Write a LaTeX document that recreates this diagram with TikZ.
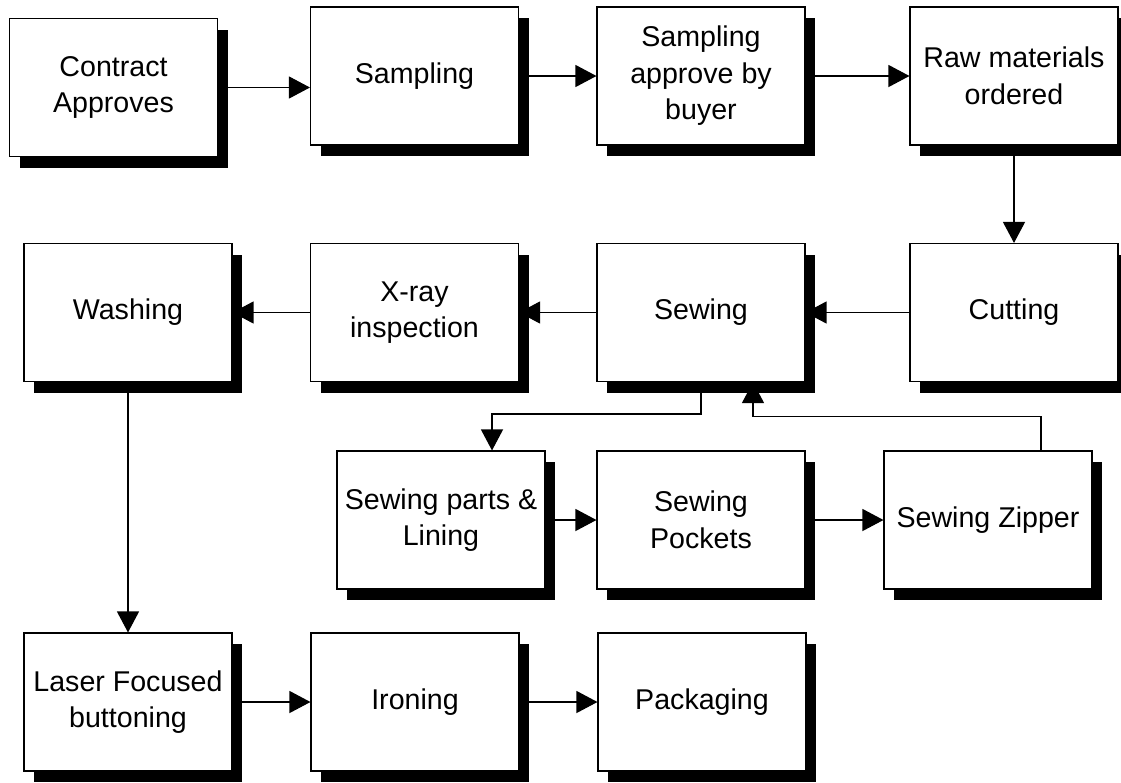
\documentclass[tikz,border=0pt]{standalone}
\usepackage{fontspec}
\setmainfont{Liberation Sans}
\usetikzlibrary{arrows.meta,shadows,backgrounds}
\tikzset{
  box/.style={draw=black, line width=1.1pt, fill=white,
    minimum width=208pt, minimum height=138pt, inner sep=2pt,
    align=center, font=\fontsize{28.6}{36.5}\selectfont,
    drop shadow={shadow xshift=10pt, shadow yshift=-11pt, fill=black, opacity=1}},
  link/.style={line width=1.2pt, -{Triangle[length=21pt,width=22pt]}}
}
\begin{document}
\begin{tikzpicture}[x=1pt,y=-1pt]
\useasboundingbox (0,0) rectangle (1121,782);
% row 1
\node[box] (contract) at (113.5,87.5) {Contract\\Approves};
\node[box] (sampling) at (414.5,76) {Sampling};
\node[box] (approve)  at (701,76)   {Sampling\\approve by\\buyer};
\node[box] (raw)      at (1014,76)  {Raw materials\\ordered};
% row 2
\node[box] (washing)  at (128,312.5)   {Washing};
\node[box] (xray)     at (414.5,312.5) {X-ray\\inspection};
\node[box] (sewing)   at (701,312.5)   {Sewing};
\node[box] (cutting)  at (1014,312.5)  {Cutting};
% row 3
\node[box] (parts)    at (441,520) {Sewing parts \&\\Lining};
\node[box] (pockets)  at (701,520) {Sewing\\Pockets};
\node[box] (zipper)   at (988,520) {Sewing Zipper};
% row 4
\node[box] (laser)    at (128,702) {Laser Focused\\buttoning};
\node[box] (ironing)  at (415,702) {Ironing};
\node[box] (packaging) at (702,702) {Packaging};

\begin{scope}[on background layer]
\draw[link] (contract.east) -- (contract.east -| sampling.west);
\draw[link] (sampling) -- (approve);
\draw[link] (approve) -- (raw);
\draw[link] (raw) -- (cutting);
\draw[link] (cutting) -- (sewing);
\draw[link] (sewing) -- (xray);
\draw[link] (xray) -- (washing);
\draw[link] (washing) -- (laser);
\draw[link] (laser) -- (ironing);
\draw[link] (ironing) -- (packaging);
\draw[link] (parts.east) -- (parts.east -| pockets.west);
\draw[link] (pockets) -- (zipper);
\draw[link] (sewing.south) -- ++(0,32) -| ([xshift=51pt]parts.north);
\draw[link] ([xshift=53pt]zipper.north) -- ++(0,-34) -| ([xshift=52pt]sewing.south);
\end{scope}
\end{tikzpicture}
\end{document}
